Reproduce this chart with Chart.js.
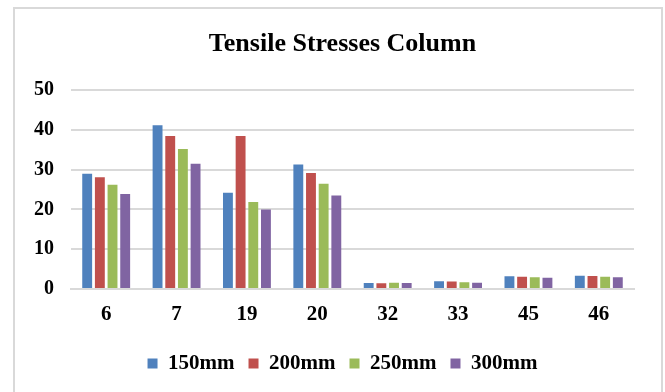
<!DOCTYPE html>
<html lang="en">
<head>
  <meta charset="UTF-8">
  <title>Tensile Stresses Column</title>
  <script src="https://cdn.jsdelivr.net/npm/chart.js"></script>
  <style>
    body {
      margin: 0;
      padding: 0;
      background: #fff;
      overflow: hidden;
    }
    .frame {
      position: absolute;
      left: 13px;
      top: 7px;
      width: 646px;
      height: 400px;
      border: 2px solid #d9d9d9;
    }
  </style>
</head>
<body>
  <div class="frame">
    <canvas id="tensileChart" width="646" height="383"></canvas>
  </div>

  <script>
    // values
    const categories = ['6', '7', '19', '20', '32', '33', '45', '46'];
    const s150 = [29.0, 41.2, 24.2, 31.3, 1.5, 1.95, 3.2, 3.35];
    const s200 = [28.1, 38.5, 38.5, 29.2, 1.45, 1.9, 3.1, 3.3];
    const s250 = [26.2, 35.2, 21.9, 26.5, 1.6, 1.7, 2.95, 3.1];
    const s300 = [23.9, 31.5, 20.0, 23.5, 1.5, 1.6, 2.8, 2.95];
    const seriesNames = ['150mm', '200mm', '250mm', '300mm'];
    const yTicks = [0, 10, 20, 30, 40, 50];

    const colors = ['#4f81bd', '#c0504d', '#9bbb59', '#8064a2'];
    const fontFamily = "'Liberation Serif', 'Times New Roman', serif";

    function makeSet(name, data, i) {
      return {
        label: name,
        data: data,
        backgroundColor: colors[i],
        borderWidth: 0,
        barPercentage: 0.78,
        categoryPercentage: 0.72
      };
    }

    function createChart() {
      const ctx = document.getElementById('tensileChart').getContext('2d');
      new Chart(ctx, {
        type: 'bar',
        data: {
          labels: categories,
          datasets: [
            makeSet(seriesNames[0], s150, 0),
            makeSet(seriesNames[1], s200, 1),
            makeSet(seriesNames[2], s250, 2),
            makeSet(seriesNames[3], s300, 3)
          ]
        },
        options: {
          responsive: false,
          animation: false,
          layout: {
            padding: { left: 9, right: 0, top: 0, bottom: 8 }
          },
          plugins: {
            title: {
              display: true,
              text: 'Tensile Stresses Column',
              color: '#000',
              font: { family: fontFamily, size: 26, weight: 'bold' },
              padding: { top: 20, bottom: 30 }
            },
            legend: {
              position: 'bottom',
              labels: {
                color: '#000',
                boxWidth: 10,
                boxHeight: 10,
                padding: 14,
                font: { family: fontFamily, size: 21, weight: 'bold' }
              }
            },
            tooltip: { enabled: false }
          },
          scales: {
            x: {
              grid: { display: false, drawTicks: false },
              border: { display: true, color: '#d9d9d9', width: 2 },
              ticks: {
                color: '#000',
                padding: 13,
                font: { family: fontFamily, size: 21, weight: 'bold' }
              },
              afterFit: function(scale) { scale.height = 50; }
            },
            y: {
              min: 0,
              max: 50,
              afterBuildTicks: function(scale) {
                scale.ticks = yTicks.map(v => ({ value: v }));
              },
              grid: { color: '#d9d9d9', lineWidth: 2, drawTicks: false },
              border: { display: false },
              ticks: {
                color: '#000',
                padding: 17,
                font: { family: fontFamily, size: 20, weight: 'bold' }
              },
              afterFit: function(scale) { scale.width = 47; }
            },
            // empty right-hand axis, only keeps space right of the plot
            yRight: {
              type: 'linear',
              position: 'right',
              min: 0,
              max: 50,
              grid: { display: false, drawTicks: false },
              border: { display: false },
              ticks: { display: false },
              afterFit: function(scale) { scale.width = 27; }
            }
          }
        }
      });
    }

    document.addEventListener('DOMContentLoaded', function() {
      createChart();
    });
  </script>
</body>
</html>
